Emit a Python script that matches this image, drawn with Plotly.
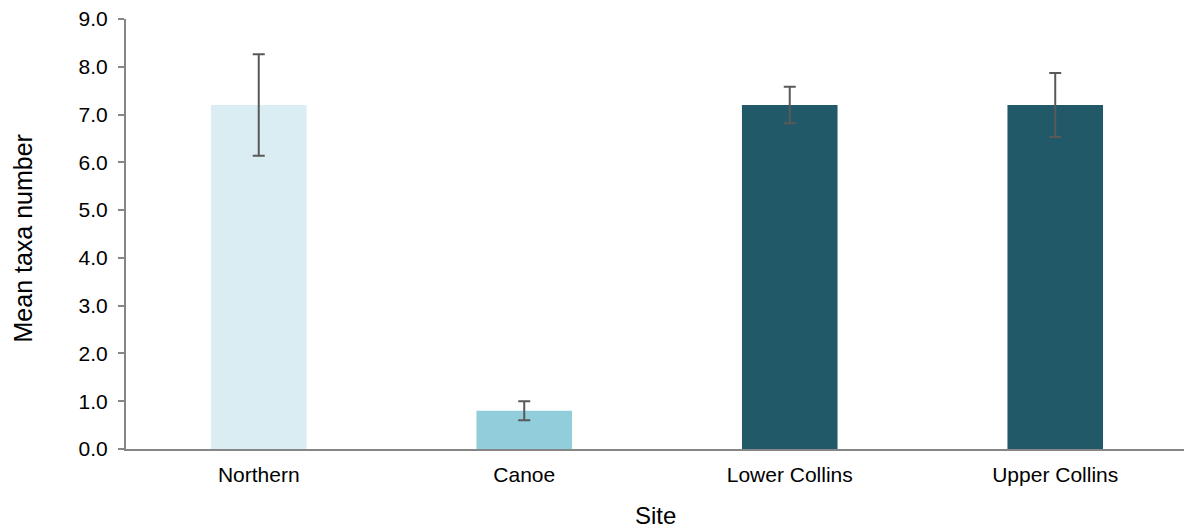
import plotly.graph_objects as go

sites = ["Northern", "Canoe", "Lower Collins", "Upper Collins"]
mean_taxa = [7.2, 0.8, 7.2, 7.2]
error_vals = [1.06, 0.2, 0.38, 0.67]
bar_colors = ["#daedf3", "#92cddc", "#215968", "#215968"]
y_ticks = [0, 1, 2, 3, 4, 5, 6, 7, 8, 9]
y_ticklabels = [f"{v:.1f}" for v in y_ticks]

W, H = 1184, 530
ml, mr, mt, mb = 126, 0, 19, 81

fig = go.Figure()
fig.add_trace(go.Bar(
    x=sites, y=mean_taxa,
    marker=dict(color=bar_colors, line=dict(width=0)),
    width=0.36,
    error_y=dict(type="data", array=error_vals, visible=True,
                 color="#595959", thickness=2, width=6),
    showlegend=False,
))

font_family = "Liberation Sans, Arial, sans-serif"
fig.update_layout(
    width=W, height=H,
    margin=dict(l=ml, r=mr, t=mt, b=mb, pad=0),
    paper_bgcolor="white", plot_bgcolor="white",
    font=dict(family=font_family, color="#000000", size=21),
    xaxis=dict(
        range=[-0.5, 3.485], showgrid=False, zeroline=False,
        showline=True, linecolor="#868686", linewidth=2,
        ticks="", tickfont=dict(size=21, color="#000000"),
        ticklabelstandoff=6,
    ),
    yaxis=dict(
        range=[0, 9], tickvals=y_ticks, ticktext=y_ticklabels,
        showgrid=False, zeroline=False,
        showline=True, linecolor="#868686", linewidth=2,
        ticks="outside", ticklen=6, tickwidth=2, tickcolor="#868686",
        tickfont=dict(size=21, color="#000000"),
        ticklabelstandoff=6,
    ),
    annotations=[
        dict(text="Site", xref="paper", yref="paper", x=0.5, y=-(515 - (H - mb)) / (H - mt - mb),
             xanchor="center", yanchor="middle", showarrow=False,
             font=dict(size=24, color="#000000", family=font_family)),
        dict(text="Mean taxa number", xref="paper", yref="paper",
             x=-(ml - 22) / (W - ml - mr), y=(H - mb - 238.5) / (H - mt - mb), textangle=-90,
             xanchor="center", yanchor="middle", showarrow=False,
             font=dict(size=25, color="#000000", family=font_family)),
    ],
)

fig.write_html("out.html", config={"displayModeBar": False},
               post_script="document.body.style.margin='0';document.body.style.overflow='hidden';")
